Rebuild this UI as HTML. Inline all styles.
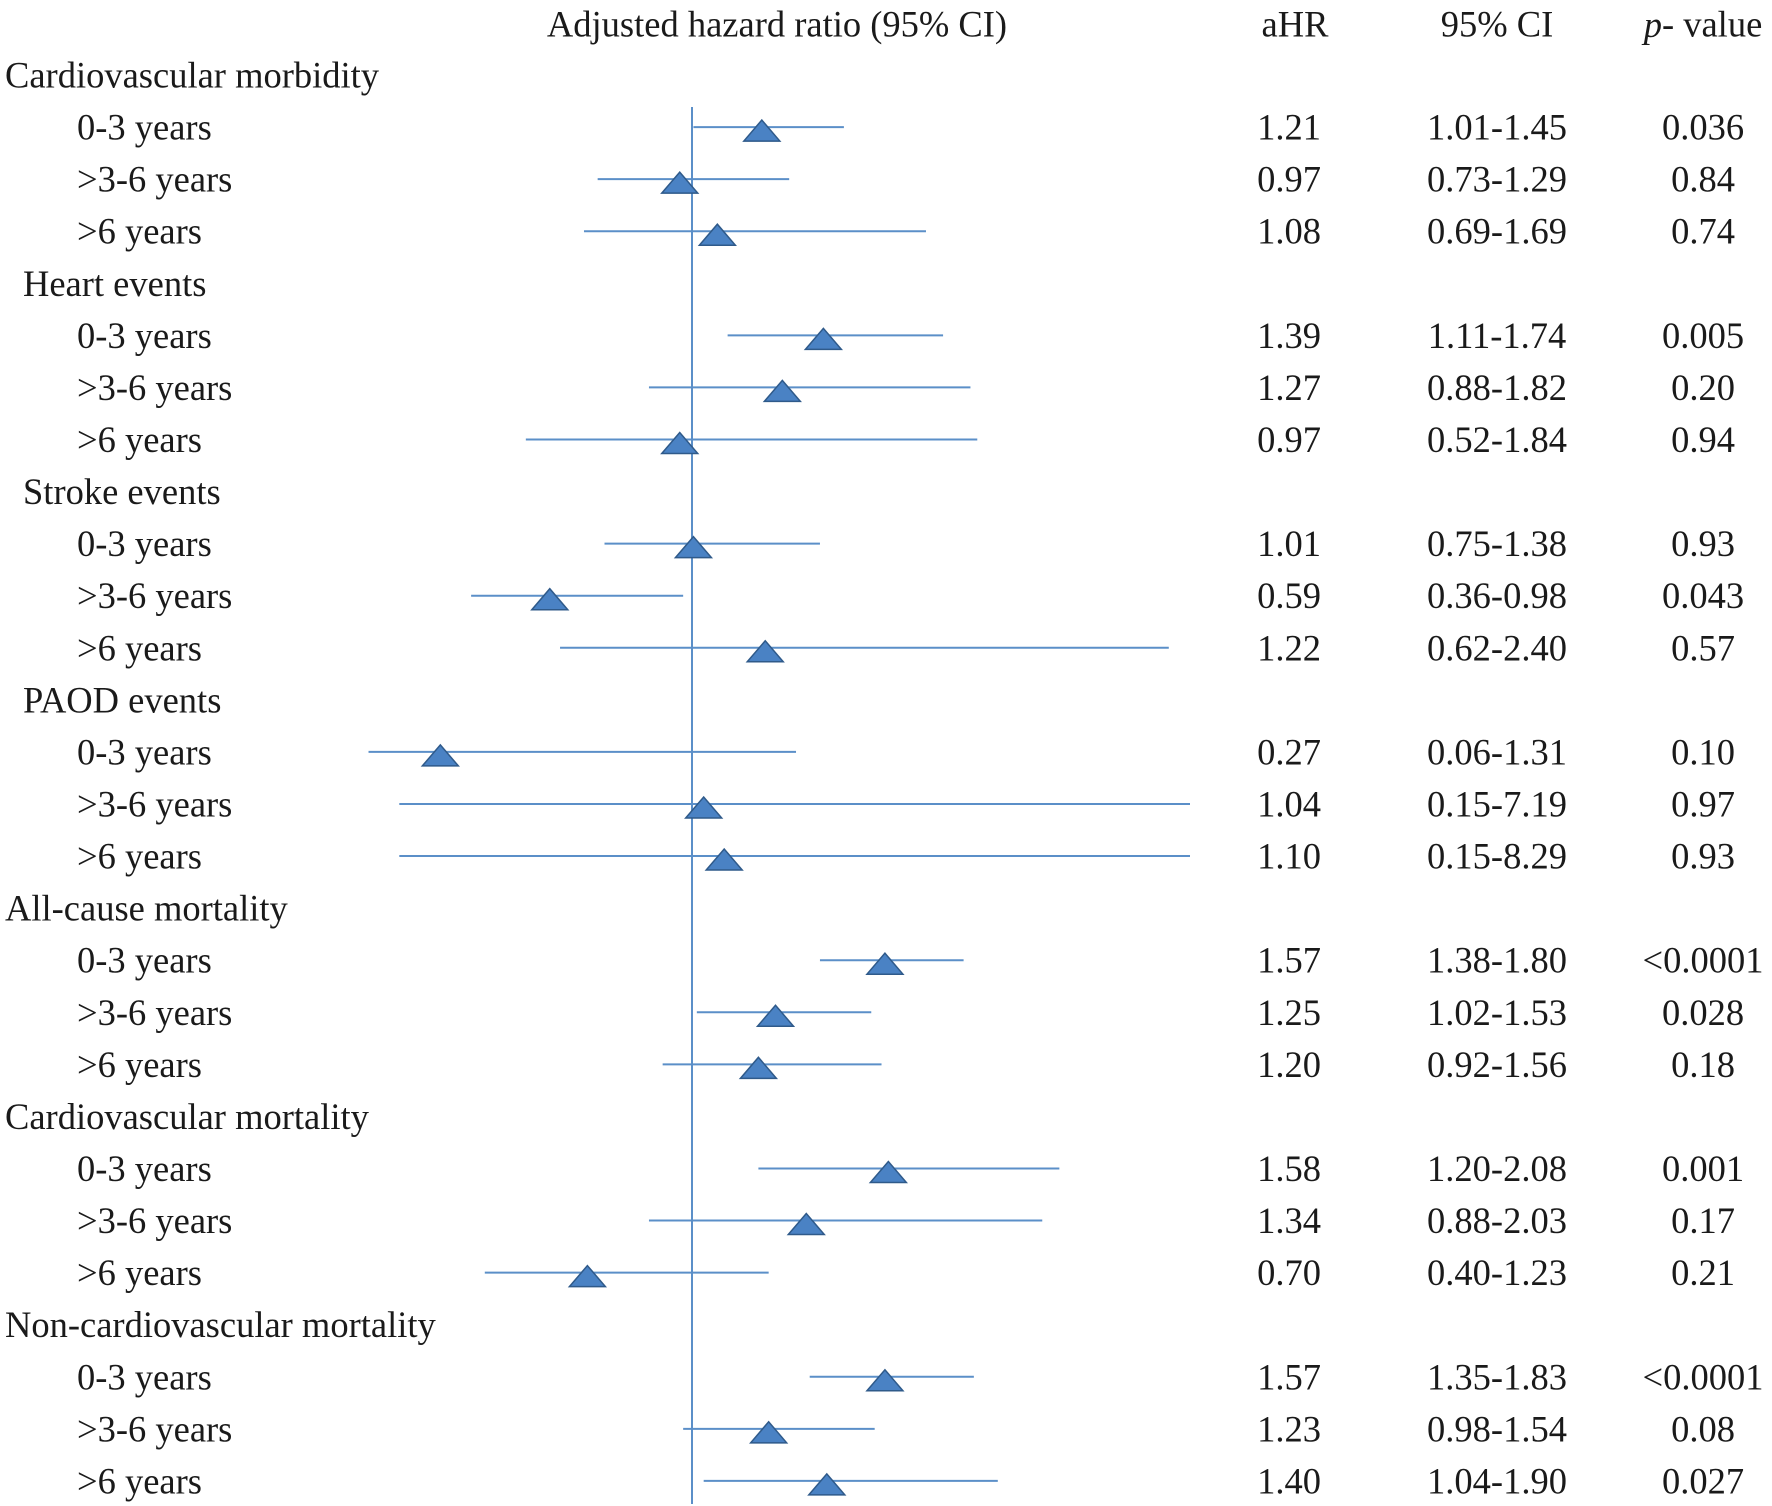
<!DOCTYPE html>
<html><head><meta charset="utf-8"><style>
html,body{margin:0;padding:0;background:#fff}
svg{display:block}
text{font-family:"Liberation Serif",serif;font-size:36.5px;fill:#1a1a1a}
</style></head><body>
<svg id="chart" width="1772" height="1506" viewBox="0 0 1772 1506" xmlns="http://www.w3.org/2000/svg">
<text x="777" y="24" text-anchor="middle" dominant-baseline="central">Adjusted hazard ratio (95% CI)</text>
<text x="1295" y="24" text-anchor="middle" dominant-baseline="central">aHR</text>
<text x="1497" y="24" text-anchor="middle" dominant-baseline="central">95% CI</text>
<text x="1703" y="24" text-anchor="middle" dominant-baseline="central"><tspan font-style="italic">p</tspan>- value</text>
<g id="plot"></g>
</svg>
<script>
const groups = ["Cardiovascular morbidity","Heart events","Stroke events","PAOD events","All-cause mortality","Cardiovascular mortality","Non-cardiovascular mortality"];
const groupIndent = [0,1,1,1,0,0,0];
const periods = ["0-3 years",">3-6 years",">6 years"];
const hr = [1.21,0.97,1.08, 1.39,1.27,0.97, 1.01,0.59,1.22, 0.27,1.04,1.10, 1.57,1.25,1.20, 1.58,1.34,0.70, 1.57,1.23,1.40];
const lo = [1.01,0.73,0.69, 1.11,0.88,0.52, 0.75,0.36,0.62, 0.06,0.15,0.15, 1.38,1.02,0.92, 1.20,0.88,0.40, 1.35,0.98,1.04];
const hi = [1.45,1.29,1.69, 1.74,1.82,1.84, 1.38,0.98,2.40, 1.31,7.19,8.29, 1.80,1.53,1.56, 2.08,2.03,1.23, 1.83,1.54,1.90];
const pvals = ["0.036","0.84","0.74","0.005","0.20","0.94","0.93","0.043","0.57","0.10","0.97","0.93","<0.0001","0.028","0.18","0.001","0.17","0.21","<0.0001","0.08","0.027"];

const NS="http://www.w3.org/2000/svg";
const g=document.getElementById('plot');
const xScale=v=>Math.min(1190, 690+(v-1)*342);
const yRow=r=>75+r*52.07;
function mk(tag,attrs){const e=document.createElementNS(NS,tag);for(const k in attrs)e.setAttribute(k,attrs[k]);g.appendChild(e);return e;}
const line=mk('line',{x1:692,x2:692,y1:107,y2:1504,stroke:'#5b8fc8','stroke-width':2});


groups.forEach((gn,gi)=>{
  const t=mk('text',{x:groupIndent[gi]?23:5,y:yRow(gi*4),'dominant-baseline':'central'});
  t.textContent=gn;
  
  
  periods.forEach((p,pi)=>{
    const i=gi*3+pi, y=yRow(gi*4+pi+1);
    const l=mk('text',{x:77,y:y,'dominant-baseline':'central'});l.textContent=p;
    
    
    const ci=mk('line',{x1:xScale(lo[i]),x2:xScale(hi[i]),y1:y,y2:y,stroke:'#5b8fc8','stroke-width':2});
    
    
    const cx=xScale(hr[i]);
    const tri=mk('polygon',{points:`${cx-18},${y+14} ${cx+18},${y+14} ${cx},${y-7}`,fill:'#4a82c4',stroke:'#2f5a8a','stroke-width':1.5});
    
    
    const a=mk('text',{x:1289,y:y,'text-anchor':'middle','dominant-baseline':'central'});a.textContent=hr[i].toFixed(2);
    
    
    const c=mk('text',{x:1497,y:y,'text-anchor':'middle','dominant-baseline':'central'});c.textContent=lo[i].toFixed(2)+'-'+hi[i].toFixed(2);
    
    
    const pv=mk('text',{x:1703,y:y,'text-anchor':'middle','dominant-baseline':'central'});pv.textContent=pvals[i];
    
    
  });
});
</script>
</body></html>
